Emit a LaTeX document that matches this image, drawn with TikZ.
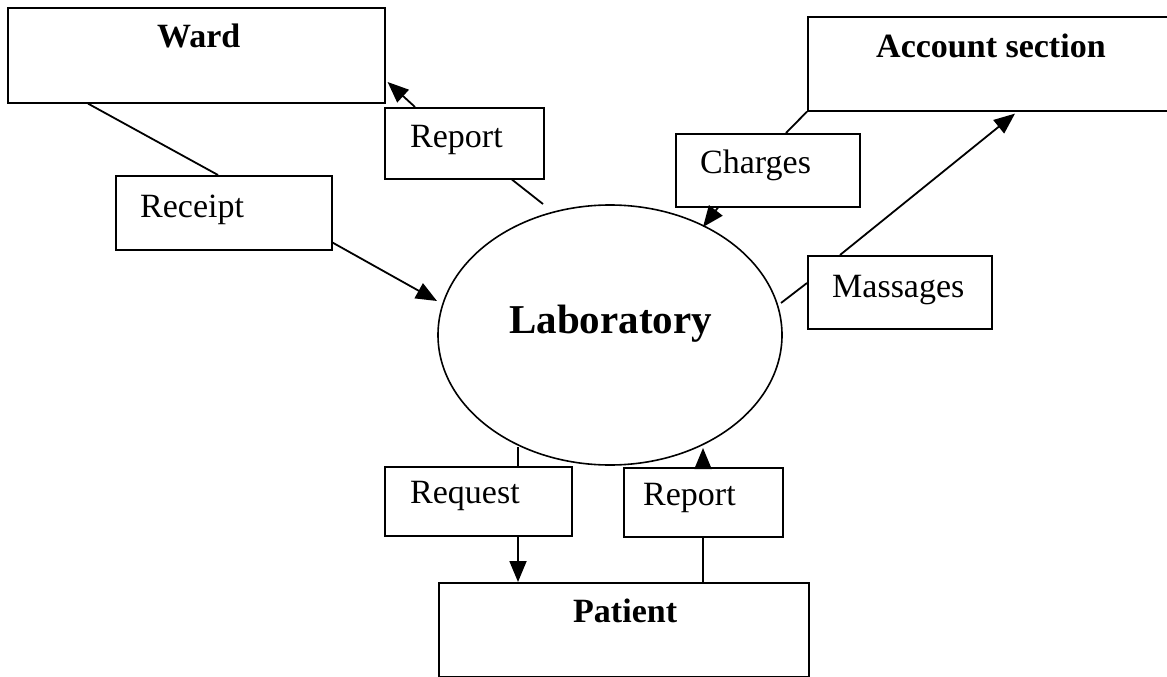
\documentclass[tikz,border=0pt]{standalone}
\usepackage{fontspec}
\setmainfont{Liberation Serif}
\usetikzlibrary{calc,shapes.geometric,arrows.meta}

\tikzset{
  box/.style={draw, line width=1.6pt, inner sep=0pt, anchor=north west},
  flow/.style={line width=1.8pt},
  arrowflow/.style={flow, -{Triangle[length=21pt,width=17pt]}},
  title/.style={inner sep=0pt, anchor=base west, font=\fontsize{34}{40}\selectfont\bfseries},
  label/.style={inner sep=0pt, anchor=base west, font=\fontsize{34}{40}\selectfont},
}

\begin{document}
\begin{tikzpicture}[x=1pt, y=-1pt]
  \useasboundingbox (0,0) rectangle (1167,677);
  \clip (0,0) rectangle (1167,677);
  \fill[white] (0,0) rectangle (1167,677);

  % external entities
  \node[box, minimum width=377pt, minimum height=95pt] (ward) at (7,7) {};
  \node[box, minimum width=380pt, minimum height=94pt] (account) at (807,16) {};
  \node[box, minimum width=370pt, minimum height=94pt] (patient) at (438,582) {};

  % process
  \node[draw, ellipse, line width=1.6pt, inner sep=0pt,
        minimum width=344pt, minimum height=260pt] (lab) at (610,335) {};

  % data flow labels
  \node[box, minimum width=159pt, minimum height=71pt] (rptA) at (384,107) {};
  \node[box, minimum width=216pt, minimum height=74pt] (receipt) at (115,175) {};
  \node[box, minimum width=184pt, minimum height=73pt] (charges) at (675,133) {};
  \node[box, minimum width=184pt, minimum height=73pt] (massages) at (807,255) {};
  \node[box, minimum width=187pt, minimum height=69pt] (request) at (384,466) {};
  \node[box, minimum width=159pt, minimum height=69pt] (rptB) at (623,467) {};

  % texts
  \node[title] (tward) at (157,48) {Ward};
  \node[title] (taccount) at (876,58) {Account section};
  \node[title] (tpatient) at (573,622) {Patient};
  \node[title, font=\fontsize{41}{48}\selectfont\bfseries] (tlab) at (509,333) {Laboratory};
  \node[label] (trptA) at (410,147) {Report};
  \node[label] (treceipt) at (140,217) {Receipt};
  \node[label] (tcharges) at (700,173) {Charges};
  \node[label] (tmassages) at (832,297) {Massages};
  \node[label] (trequest) at (410,503) {Request};
  \node[label] (trptB) at (643,505) {Report};

  % Ward <-> Laboratory
  \draw[flow] ($(ward.south west)+(81,0)$) -- ($(receipt.north west)+(103,0)$);
  \draw[arrowflow] ($(receipt.south east)+(0,-8)$) -- ($(lab.center)+(-173,-34)$);
  \draw[flow] ($(lab.center)+(-67,-131)$) -- ($(rptA.south west)+(128,0)$);
  \draw[arrowflow] ($(rptA.north west)+(31,0)$) -- ($(ward.north east)+(2,75)$);

  % Account section <-> Laboratory
  \draw[flow] (account.south west) -- ($(charges.north west)+(111,0)$);
  \draw[arrowflow] ($(charges.south west)+(43,0)$) -- ($(lab.center)+(93,-108)$);
  \draw[flow] ($(lab.center)+(171,-32)$) -- ($(massages.north west)+(0,28)$);
  \draw[arrowflow] ($(massages.north west)+(33,0)$) -- ($(account.south west)+(208,2)$);

  % Patient <-> Laboratory
  \draw[flow] ($(lab.center)+(-92,112)$) -- ($(request.north west)+(134,0)$);
  \draw[arrowflow] ($(request.south west)+(134,0)$) -- ($(patient.north west)+(80,0)$);
  \draw[flow] ($(patient.north west)+(265,0)$) -- ($(rptB.south west)+(80,0)$);
  \draw[arrowflow] ($(rptB.north west)+(80,0)$) -- ($(lab.center)+(93,113)$);
\end{tikzpicture}
\end{document}
